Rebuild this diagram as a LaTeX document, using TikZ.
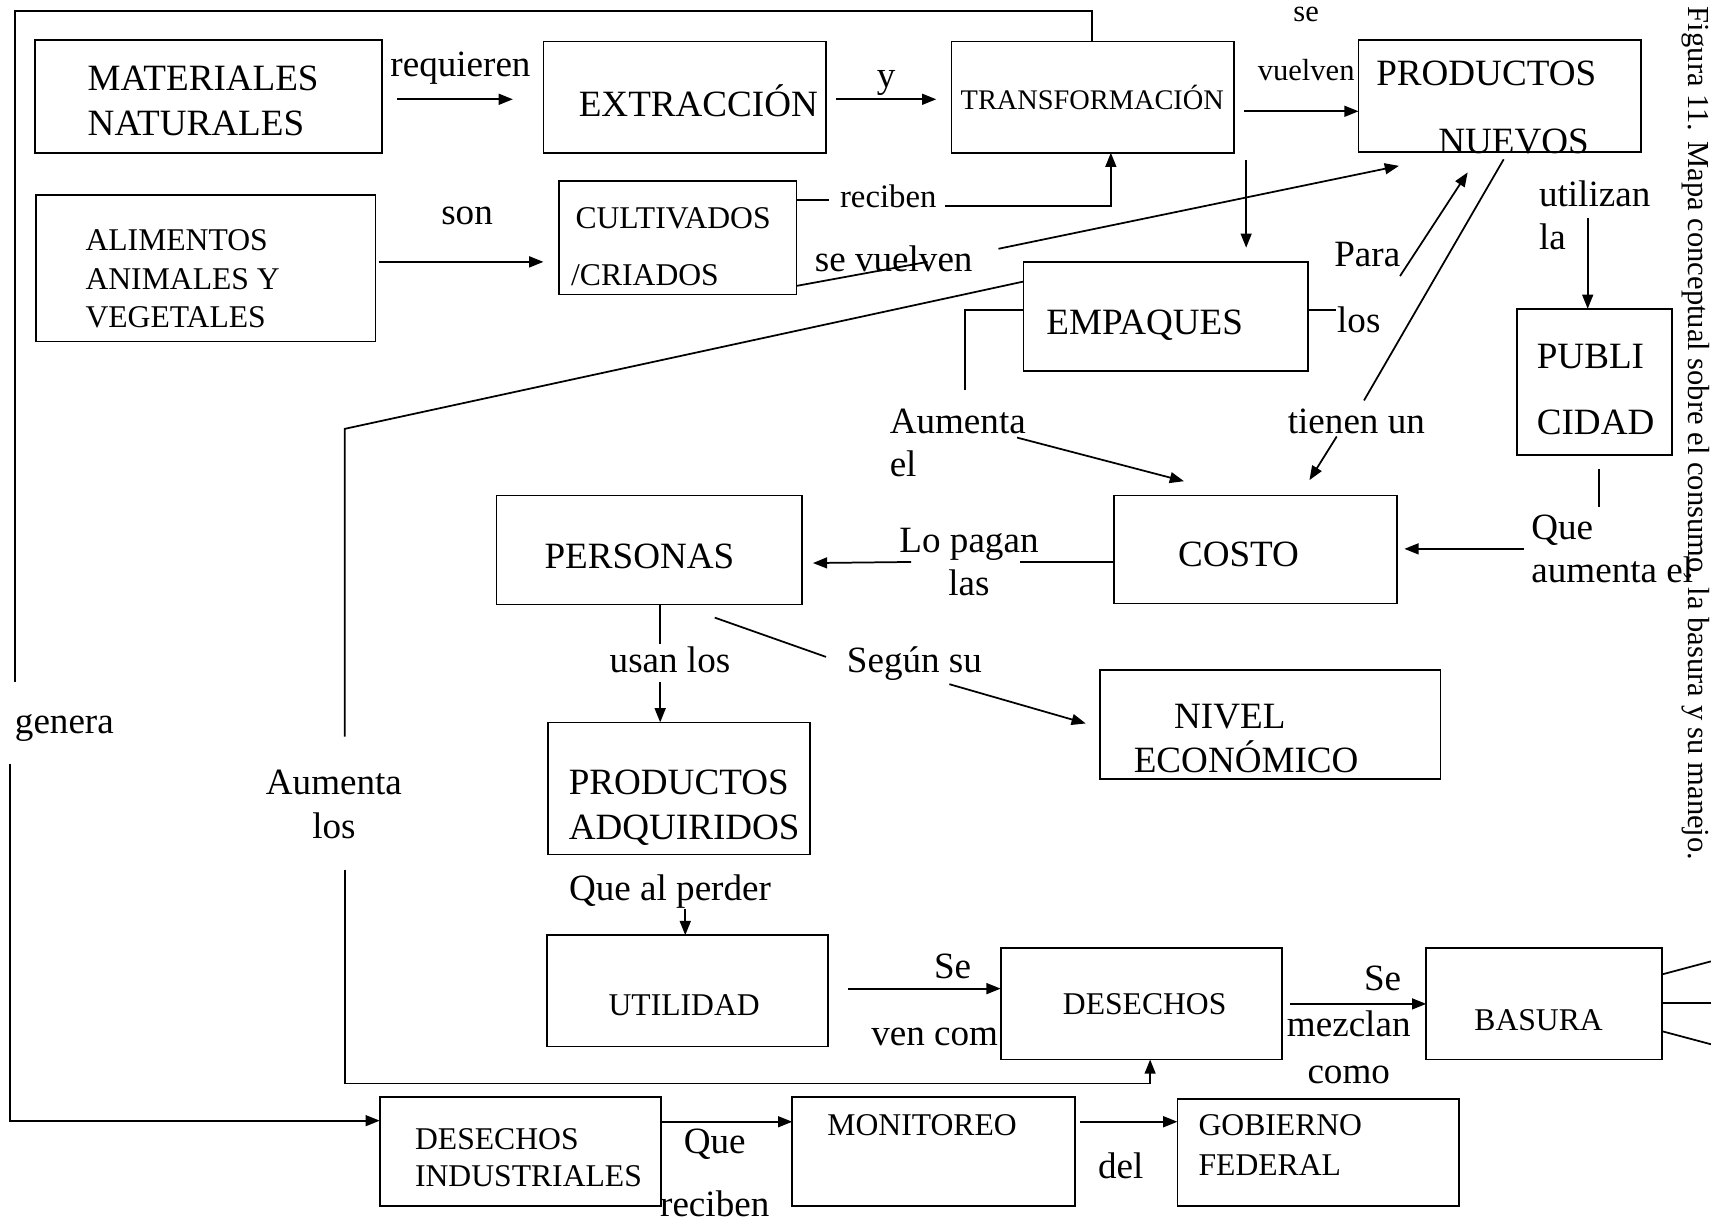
\documentclass[tikz,border=0pt]{standalone}
\usepackage{fontspec}
\setmainfont{Liberation Serif}
\usetikzlibrary{arrows.meta}
\newcommand\fszA{\fontsize{17}{20}\selectfont}
\newcommand\fszB{\fontsize{14.5}{17}\selectfont}
\newcommand\fszC{\fontsize{13}{15}\selectfont}
\newcommand\fszD{\fontsize{14}{16}\selectfont}
\newcommand\fszE{\fontsize{15}{17}\selectfont}
\newcommand\bx[5]{%
  \pgfmathsetmacro\bxw{(#4-#2)*0.5}%
  \pgfmathsetmacro\bxh{(#5-#3)*0.5}%
  \node[box, minimum width=\bxw pt, minimum height=\bxh pt] (#1) at (#2,#3) {};}
\begin{document}
\begin{tikzpicture}[x=0.5pt,y=-0.5pt,
  box/.style={draw, line width=0.8pt, inner sep=0pt, outer sep=0pt, anchor=north west},
  tA/.style={inner sep=0pt, font=\fszA},
  tB/.style={inner sep=0pt, font=\fszB},
  tC/.style={inner sep=0pt, font=\fszC},
  tD/.style={inner sep=0pt, font=\fszD},
  tE/.style={inner sep=0pt, font=\fszE},
  ln/.style={line width=0.8pt},
  arr/.style={line width=0.8pt, -{Triangle[length=6.5pt,width=5pt]}}]
\useasboundingbox (0,0) rectangle (1568,1122);
\fill[white] (0,0) rectangle (1568,1122);
\clip (0,0) rectangle (1568,1122);

% ---------- boxes ----------
\bx{mat}{32}{37}{350}{140}
\bx{ext}{498}{38}{757}{140}
\bx{trans}{872}{38}{1131}{140}
\bx{pn}{1245}{37}{1504}{139}
\bx{ali}{33}{179}{344}{313}
\bx{cul}{512}{166}{730}{270}
\bx{emp}{938}{240}{1199}{340}
\bx{pub}{1390}{283}{1532}{417}
\bx{per}{455}{454}{735}{554}
\bx{cos}{1021}{454}{1280}{553}
\bx{niv}{1008}{614}{1320}{714}
\bx{pad}{502}{662}{742}{783}
\bx{uti}{501}{857}{759}{959}
\bx{des}{917}{869}{1175}{971}
\bx{bas}{1307}{869}{1523}{971}
\bx{di}{348}{1005}{606}{1105}
\bx{mon}{726}{1005}{985}{1105}
\bx{gob}{1079}{1007}{1337}{1105}

% ---------- box texts ----------
\node[tA, anchor=base west] (tmat1) at (80,83) {MATERIALES};
\node[tA, anchor=base west] (tmat2) at (80,124) {NATURALES};
\node[tA, anchor=base] (text) at (640,107) {EXTRACCIÓN};
\node[tC, anchor=base] (ttrans) at (1001,100) {TRANSFORMACIÓN};
\node[tA, anchor=base] (tpn1) at (1362,78) {PRODUCTOS};
\node[tA, anchor=base] (tpn2) at (1387,141) {NUEVOS};
\node[tB, anchor=base west] (tali1) at (78,230) {ALIMENTOS};
\node[tB, anchor=base west] (tali2) at (78,265) {ANIMALES Y};
\node[tB, anchor=base west] (tali3) at (78,300) {VEGETALES};
\node[tB, anchor=base west] (tcul1) at (527,209) {CULTIVADOS};
\node[tB, anchor=base west] (tcul2) at (523,262) {/CRIADOS};
\node[tA, anchor=base] (temp) at (1049,307) {EMPAQUES};
\node[tA, anchor=base west] (tpub1) at (1408,338) {PUBLI};
\node[tA, anchor=base west] (tpub2) at (1408,398) {CIDAD};
\node[tA, anchor=base] (tper) at (586,521) {PERSONAS};
\node[tA, anchor=base] (tcos) at (1135,519) {COSTO};
\node[tA, anchor=base] (tniv1) at (1127,668) {NIVEL};
\node[tA, anchor=base] (tniv2) at (1142,708) {ECONÓMICO};
\node[tA, anchor=base] (tpad1) at (622,728) {PRODUCTOS};
\node[tA, anchor=base] (tpad2) at (627,769) {ADQUIRIDOS};
\node[tB, anchor=base] (tuti) at (627,931) {UTILIDAD};
\node[tB, anchor=base] (tdes) at (1049,930) {DESECHOS};
\node[tB, anchor=base] (tbas) at (1410,944) {BASURA};
\node[tB, anchor=base west] (tdi1) at (380,1053) {DESECHOS};
\node[tB, anchor=base west] (tdi2) at (380,1087) {INDUSTRIALES};
\node[tB, anchor=base] (tmon) at (845,1041) {MONITOREO};
\node[tB, anchor=base west] (tgob1) at (1098,1041) {GOBIERNO};
\node[tB, anchor=base west] (tgob2) at (1098,1077) {FEDERAL};

% ---------- labels ----------
\node[tA, anchor=base] (lreq) at (422,70) {requieren};
\node[tA, anchor=base] (ly) at (812,80) {y};
\node[tD, anchor=base] (lse1) at (1197,20) {se};
\node[tD, anchor=base] (lvuel1) at (1197,74) {vuelven};
\node[tE, anchor=base] (lrec1) at (814,190) {reciben};
\node[tA, anchor=base] (lson) at (428,206) {son};
\node[tA, anchor=base] (lsev) at (819,249) {se vuelven};
\node[tA, anchor=base] (laum1) at (306,728) {Aumenta};
\node[tA, anchor=base] (llos1) at (306,768) {los};
\node[tA, anchor=base west] (laum2) at (815,397) {Aumenta};
\node[tA, anchor=base west] (lel) at (815,437) {el};
\node[tA, anchor=base west] (llos2) at (1225,305) {los};
\node[tA, anchor=base] (lpara) at (1253,244) {Para};
\node[tA, anchor=base] (ltien) at (1243,397) {tienen un};
\node[tA, anchor=base west] (lutil) at (1410,189) {utilizan};
\node[tA, anchor=base west] (lla) at (1410,229) {la};
\node[tA, anchor=base west] (lque1) at (1403,494) {Que};
\node[tA, anchor=base west] (laumel) at (1403,534) {aumenta el};
\node[tA, anchor=base] (llopag) at (888,506) {Lo pagan};
\node[tA, anchor=base] (llas) at (888,546) {las};
\node[tA, anchor=base] (lusan) at (614,616) {usan los};
\node[tA, anchor=base] (lseg) at (838,616) {Según su};
\node[tA, anchor=base] (lqap) at (614,825) {Que al perder};
\node[tA, anchor=base] (lse2) at (873,897) {Se};
\node[tA, anchor=base east] (lven) at (915,958) {ven com};
\node[tA, anchor=base] (lse3) at (1267,908) {Se};
\node[tA, anchor=base] (lmez) at (1236,950) {mezclan};
\node[tA, anchor=base] (lcomo) at (1236,993) {como};
\node[tA, anchor=base] (lque2) at (655,1057) {Que};
\node[tA, anchor=base] (lrec2) at (655,1115) {reciben};
\node[tA, anchor=base] (ldel) at (1027,1080) {del};
\node[tA, anchor=base] (lgen) at (59,672) {genera};
\node[inner sep=0pt, font=\fszD, rotate=-90, anchor=base west] (cap) at (1547,6)
  {Figura 11. Mapa conceptual sobre el consumo, la basura y su manejo.};

% ---------- connectors ----------
\draw[arr] (364,91) -- (470,91);
\draw[arr] (766,91) -- (858,91);
\draw[arr] (1140,102) -- (pn.west |- 0,102);
\draw[arr] (1142,147) -- (1142,227);
\draw[ln] (cul.east |- 0,183) -- (760,183);
\draw[arr] (866,189) -- (1018,189) -- (trans.south -| 1018,0);
\draw[arr] (347,240) -- (498,240);
\draw[ln] (cul.east |- 0,262) -- (850,240);
\draw[arr] (915,228) -- (1282,152);
% long line from EMPAQUES to DESECHOS
\draw[ln] (emp.west |- 0,258) -- (316,393) -- (316,675);
\draw[arr] (316,797) -- (316,993) -- (1054,993) -- (des.south -| 1054,0);
% EMPAQUES bracket and Aumenta el
\draw[ln] (emp.west |- 0,284) -- (884,284) -- (884,357);
\draw[arr] (932,401) -- (1085,441);
\draw[ln] (emp.east |- 0,284) -- (1224,284);
\draw[arr] (1283,253) -- (1345,158);
\draw[ln] (1378,146) -- (1250,367);
\draw[arr] (1225,400) -- (1200,440);
\draw[arr] (1455,200) -- (pub.north -| 1455,0);
\draw[ln] (1465,430) -- (1465,465);
\draw[arr] (1397,503) -- (1287,503);
\draw[ln] (cos.west |- 0,515) -- (935,515);
\draw[arr] (835,515) -- (745,516);
\draw[ln] (per.south -| 605,0) -- (605,590);
\draw[arr] (605,625) -- (pad.north -| 605,0);
\draw[ln] (655,566) -- (757,602);
\draw[arr] (870,627) -- (995,663);
\draw[arr] (628,833) -- (uti.north -| 628,0);
\draw[arr] (777,906) -- (des.west |- 0,906);
\draw[arr] (1182,920) -- (bas.west |- 0,920);
% outer feedback line
\draw[ln] (trans.north -| 1001,0) -- (1001,10) -- (14,10) -- (14,625);
\draw[arr] (9,700) -- (9,1027) -- (di.west |- 0,1027);
\draw[arr] (di.east |- 0,1028) -- (mon.west |- 0,1028);
\draw[arr] (990,1028) -- (gob.west |- 0,1028);
% lines leaving BASURA
\draw[ln] (bas.east |- 0,893) -- (1568,881);
\draw[ln] (bas.east |- 0,919) -- (1568,919);
\draw[ln] (bas.east |- 0,945) -- (1568,957);
\end{tikzpicture}
\end{document}
